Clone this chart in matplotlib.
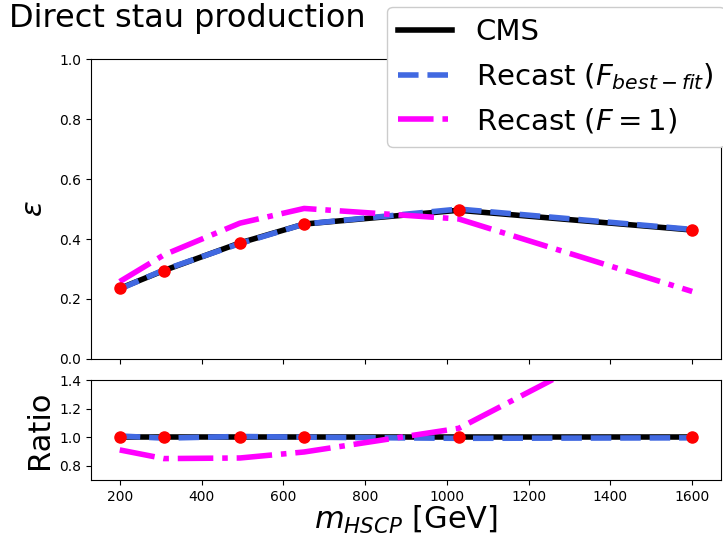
import numpy as np
import matplotlib.pyplot as plt

# stau masses (GeV)
mass = [200, 308, 494, 651, 1029, 1600]
# efficiencies
eff_cms = [0.235, 0.295, 0.387, 0.450, 0.496, 0.430]
eff_bestfit = [0.233, 0.297, 0.385, 0.450, 0.500, 0.432]
eff_f1 = [0.258, 0.347, 0.453, 0.502, 0.467, 0.225]

cms = np.array(eff_cms)
ratio_cms = cms / cms
ratio_bestfit = cms / np.array(eff_bestfit)
ratio_f1 = cms / np.array(eff_f1)

fig = plt.figure(figsize=(7.23, 5.43), dpi=100)
ax = fig.add_axes([0.126, 0.339, 0.871, 0.552])
ax2 = fig.add_axes([0.126, 0.116, 0.871, 0.184], sharex=ax)

l1, = ax.plot(mass, eff_cms, color='black', lw=4, label='CMS')
l2, = ax.plot(mass, eff_bestfit, color='royalblue', lw=4, ls='--', label=r'Recast ($F_{best-fit}$)')
l3, = ax.plot(mass, eff_f1, color='magenta', lw=4, ls='-.', label=r'Recast ($F=1$)')
ax.plot(mass, eff_cms, 'o', color='red', ms=8, zorder=5)
ax.set_ylim(0, 1)
ax.set_ylabel(r'$\epsilon$', fontsize=21, labelpad=8)
ax.tick_params(labelbottom=False, labelsize=10)

ax2.plot(mass, ratio_cms, color='black', lw=4)
ax2.plot(mass, ratio_bestfit, color='royalblue', lw=4, ls='--')
ax2.plot(mass, ratio_f1, color='magenta', lw=4, ls='-.')
ax2.plot(mass, ratio_cms, 'o', color='red', ms=8, zorder=5)
ax2.set_ylim(0.7, 1.4)
ax2.set_yticks([0.8, 1.0, 1.2, 1.4])
ax2.set_xticks(range(200, 1601, 200))
ax2.tick_params(labelsize=10)
ax2.set_ylabel('Ratio', fontsize=22, labelpad=4)
ax2.set_xlabel(r'$m_{HSCP}$ [GeV]', fontsize=22, labelpad=0)

fig.text(0.012, 0.995, 'Direct stau production', fontsize=23, va='top')
fig.legend(handles=[l1, l2, l3], loc='upper left', bbox_to_anchor=(0.535, 0.988),
           fontsize=21, handlelength=1.85, borderaxespad=0, framealpha=1)

plt.savefig('out.png', dpi=100)
